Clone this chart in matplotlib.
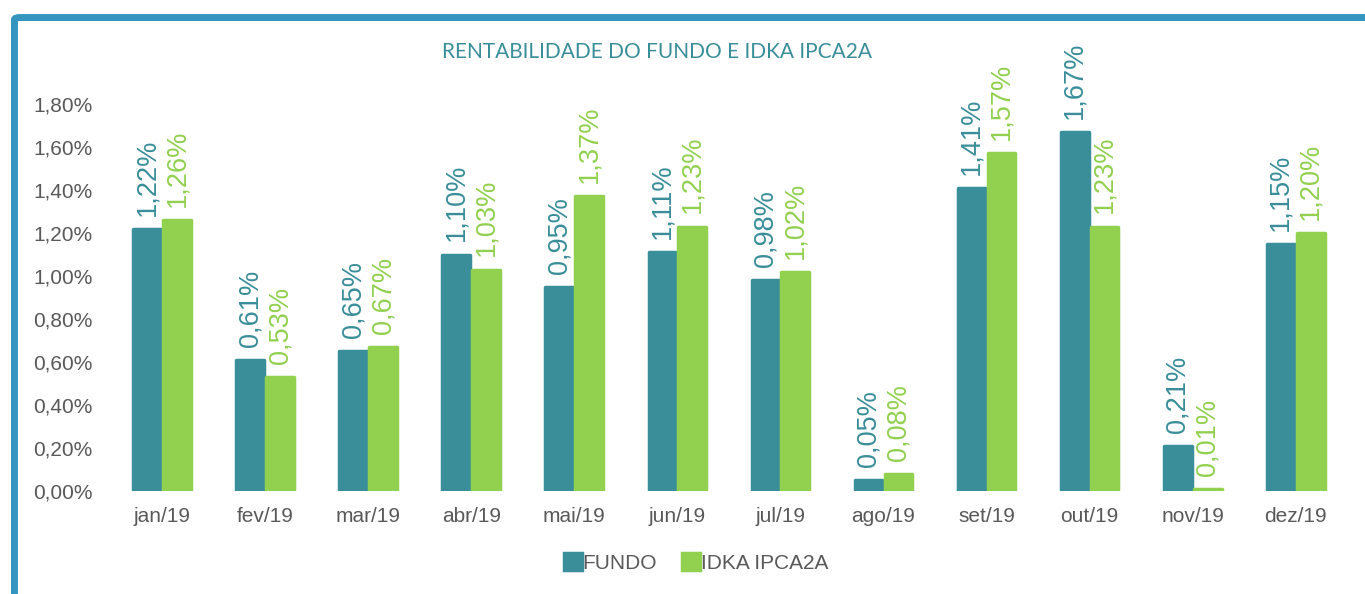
import numpy as np
import matplotlib.pyplot as plt
from matplotlib.patches import FancyBboxPatch

plt.rcParams['font.family'] = ['Liberation Sans', 'DejaVu Sans']

months = ["jan/19", "fev/19", "mar/19", "abr/19", "mai/19", "jun/19",
          "jul/19", "ago/19", "set/19", "out/19", "nov/19", "dez/19"]
fundo = [1.22, 0.61, 0.65, 1.10, 0.95, 1.11, 0.98, 0.05, 1.41, 1.67, 0.21, 1.15]
idka = [1.26, 0.53, 0.67, 1.03, 1.37, 1.23, 1.02, 0.08, 1.57, 1.23, 0.01, 1.20]
y_ticks = [0.0, 0.2, 0.4, 0.6, 0.8, 1.0, 1.2, 1.4, 1.6, 1.8]

teal = "#3a8e99"
green = "#92d050"
grey = "#595959"
frame_color = "#3496be"

fig = plt.figure(figsize=(13.65, 5.94), dpi=100)
ax = fig.add_axes([0.081, 0.173, 0.906, 0.652])

x = np.arange(len(months))
w = 0.27
ax.bar(x - 0.145, fundo, w, color=teal, edgecolor=teal, lw=2.5,
       joinstyle="round", label="FUNDO")
ax.bar(x + 0.145, idka, w, color=green, edgecolor=green, lw=2.5,
       joinstyle="round", label="IDKA IPCA2A")

def fmt(v):
    return f"{v:.2f}%".replace(".", ",")

for xi, v in zip(x, fundo):
    ax.annotate(fmt(v), (xi - 0.145, v), xytext=(0, 9.5), textcoords="offset points",
                rotation=90, ha="center", va="bottom", color=teal, fontsize=19.5,
                annotation_clip=False)
for xi, v in zip(x, idka):
    ax.annotate(fmt(v), (xi + 0.145, v), xytext=(0, 9.5), textcoords="offset points",
                rotation=90, ha="center", va="bottom", color=green, fontsize=19.5,
                annotation_clip=False)

ax.set_xlim(-0.5, len(months) - 0.5)
ax.set_ylim(0, 1.8)
ax.set_yticks(y_ticks)
ax.set_yticklabels([fmt(v) for v in y_ticks], color=grey, fontsize=15)
ax.set_xticks(x)
ax.set_xticklabels(months, color=grey, fontsize=15)
ax.tick_params(length=0)
ax.tick_params(axis="x", pad=11)
ax.tick_params(axis="y", pad=13)
for s in ax.spines.values():
    s.set_visible(False)

fig.text(0.481, 0.912, "RENTABILIDADE DO FUNDO E IDKA IPCA2A", ha="center", va="center",
         color=teal, fontsize=15, family=["Lato", "DejaVu Sans"])

fig.legend(loc="center", bbox_to_anchor=(0.51, 0.052), ncol=2, frameon=False,
           fontsize=15, handlelength=0.85, handleheight=0.85, handletextpad=0.05,
           columnspacing=1.2, labelcolor=grey)

frame = FancyBboxPatch((0.0106, -0.1), 1.1, 1.0705, boxstyle="round,pad=0,rounding_size=0.004",
                       transform=fig.transFigure, fill=False, lw=5, edgecolor=frame_color,
                       clip_on=False)
fig.patches.append(frame)

fig.savefig("out.png", dpi=100)
